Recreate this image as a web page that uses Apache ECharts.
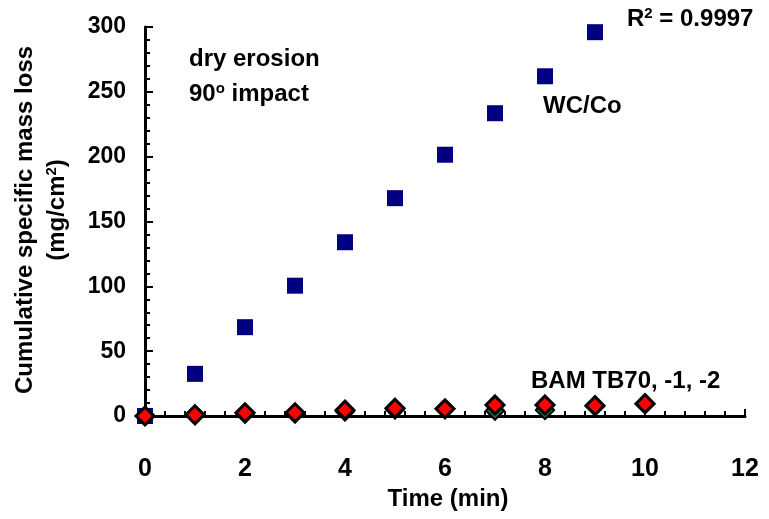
<!DOCTYPE html>
<html>
<head>
<meta charset="utf-8">
<script src="https://cdn.jsdelivr.net/npm/echarts@6/dist/echarts.min.js"></script>
<style>
  html, body { margin: 0; padding: 0; background: #fff; }
  #main { width: 769px; height: 519px; }
</style>
</head>
<body>
<div id="main"></div>
<script>
// time (min)
const timeMin = [0, 1, 2, 3, 4, 5, 6, 7, 8, 9, 10];
// WC/Co cumulative mass loss (mg/cm2)
const wcCo = [0, 32.5, 68.5, 100.5, 134, 168, 201.5, 233.5, 262, 296];
// BAM TB70 samples (three overlapping runs)
const tb70 = [0, 0.5, 1.5, 2, 3.5, 5, 5.5, 4.5, 5, 7.5, 9];
const tb70_1 = [0, 0.5, 2, 2, 3.5, 5, 5.5, 4, 4.5, 7.5, 9];
const tb70_2 = [0, 1, 2.5, 2.5, 4.5, 6, 5.5, 8.5, 8.5, 8, 9.5];

const xTicks = [0, 2, 4, 6, 8, 10, 12];
const yTicks = [0, 50, 100, 150, 200, 250, 300];

const FONT = 'Liberation Sans, Arial, sans-serif';

function pairs(ys) {
  return ys.map((v, i) => [timeMin[i], v]);
}

let myChart = echarts.init(document.getElementById('main'));

const supStyle = { fontSize: 15, fontWeight: 'bold', fontFamily: FONT, padding: [0, 0, 11, 0] };

myChart.setOption({
  animation: false,
  grid: { left: 145, right: 24, top: 27, bottom: 103 },
  xAxis: {
    type: 'value',
    min: xTicks[0],
    max: xTicks[xTicks.length - 1],
    interval: 2,
    axisLine: { lineStyle: { color: '#000', width: 3 } },
    axisTick: { inside: true, length: 7, lineStyle: { color: '#000', width: 2 } },
    minorTick: { show: true, splitNumber: 5, length: 5, lineStyle: { color: '#000', width: 2 } },
    splitLine: { show: false },
    axisLabel: { color: '#000', fontFamily: FONT, fontWeight: 'bold', fontSize: 25, margin: 41 }
  },
  yAxis: {
    type: 'value',
    min: yTicks[0],
    max: yTicks[yTicks.length - 1],
    interval: 50,
    axisLine: { show: true, lineStyle: { color: '#000', width: 3 } },
    axisTick: { show: true, inside: true, length: 8, lineStyle: { color: '#000', width: 2 } },
    minorTick: { show: true, splitNumber: 5, length: 5, lineStyle: { color: '#000', width: 2 } },
    splitLine: { show: false },
    axisLabel: { color: '#000', fontFamily: FONT, fontWeight: 'bold', fontSize: 23, margin: 19, padding: [6, 0, 0, 0] }
  },
  series: [
    {
      name: 'WC/Co',
      type: 'scatter',
      symbol: 'rect',
      symbolSize: 16,
      itemStyle: { color: '#000080', opacity: 1 },
      data: pairs(wcCo),
      z: 2
    },
    {
      name: 'BAM TB70',
      type: 'scatter',
      symbol: 'diamond',
      symbolSize: 20,
      itemStyle: { color: '#000', opacity: 1 },
      data: pairs(tb70),
      z: 3
    },
    {
      name: 'BAM TB70-1',
      type: 'scatter',
      symbol: 'diamond',
      symbolSize: 18,
      itemStyle: { color: '#1b6b3a', borderColor: '#000', borderWidth: 2, opacity: 1 },
      data: pairs(tb70_1),
      z: 4
    },
    {
      name: 'BAM TB70-2',
      type: 'scatter',
      symbol: 'diamond',
      symbolSize: 18,
      itemStyle: { color: '#ff0000', borderColor: '#000', borderWidth: 3, opacity: 1 },
      data: pairs(tb70_2),
      z: 5
    }
  ],
  graphic: [
    {
      type: 'text', x: 25, y: 220, rotation: Math.PI / 2,
      style: { text: 'Cumulative specific mass loss', fill: '#000', font: 'bold 24px ' + FONT, align: 'center', verticalAlign: 'middle' }
    },
    {
      type: 'text', x: 57, y: 210, rotation: Math.PI / 2,
      style: {
        text: '(mg/cm{sup|2})', fill: '#000', font: 'bold 24px ' + FONT, align: 'center', verticalAlign: 'middle',
        rich: { sup: supStyle }
      }
    },
    {
      type: 'text', x: 448, y: 499,
      style: { text: 'Time (min)', fill: '#000', font: 'bold 24px ' + FONT, align: 'center', verticalAlign: 'middle' }
    },
    {
      type: 'text', x: 189, y: 59,
      style: { text: 'dry erosion', fill: '#000', font: 'bold 24px ' + FONT, align: 'left', verticalAlign: 'middle' }
    },
    {
      type: 'text', x: 189, y: 94,
      style: {
        text: '90{sup|o} impact', fill: '#000', font: 'bold 24px ' + FONT, align: 'left', verticalAlign: 'middle',
        rich: { sup: supStyle }
      }
    },
    {
      type: 'text', x: 627, y: 19,
      style: {
        text: 'R{sup|2} = 0.9997', fill: '#000', font: 'bold 24px ' + FONT, align: 'left', verticalAlign: 'middle',
        rich: { sup: supStyle }
      }
    },
    {
      type: 'text', x: 543, y: 106,
      style: { text: 'WC/Co', fill: '#000', font: 'bold 24px ' + FONT, align: 'left', verticalAlign: 'middle' }
    },
    {
      type: 'text', x: 531, y: 381,
      style: { text: 'BAM TB70, -1, -2', fill: '#000', font: 'bold 24px ' + FONT, align: 'left', verticalAlign: 'middle' }
    }
  ]
});
</script>
</body>
</html>
